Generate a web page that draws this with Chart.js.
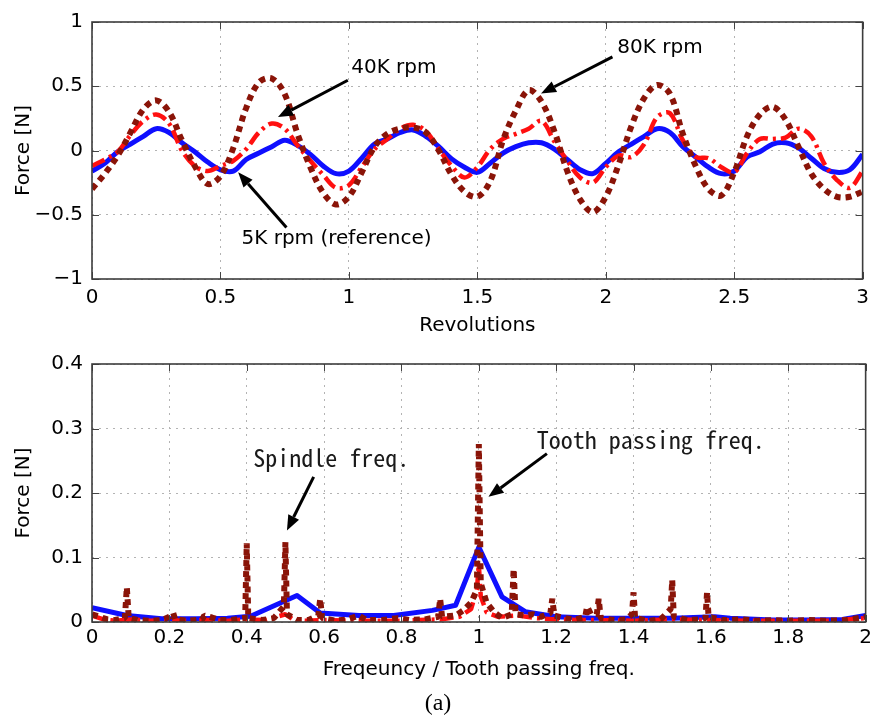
<!DOCTYPE html>
<html>
<head>
<meta charset="utf-8">
<script src="https://cdn.jsdelivr.net/npm/chart.js@4/dist/chart.umd.min.js"></script>
<style>
  html, body { margin: 0; padding: 0; background: #fff; }
  #wrap { position: relative; width: 876px; height: 721px; overflow: hidden; background: #fff; }
  #cTime { position: absolute; left: 0; top: 0; }
  #cFreq { position: absolute; left: 0; top: 340px; }
  #caption { position: absolute; left: 0; width: 876px; top: 690px; text-align: center;
             font: 24px "Liberation Serif", serif; line-height: 24px; color: #000; }
</style>
</head>
<body>
<div id="wrap">
  <canvas id="cTime" width="876" height="345"></canvas>
  <canvas id="cFreq" width="876" height="381"></canvas>
  <div id="caption">(a)</div>
</div>
<script>
// ---- time-domain force over three revolutions ----
const revolutions = [0, 0.05, 0.1, 0.15, 0.2, 0.25, 0.3, 0.35, 0.4, 0.45, 0.5, 0.55, 0.6, 0.65, 0.7, 0.75, 0.8, 0.85, 0.9, 0.95,
  1, 1.05, 1.1, 1.15, 1.2, 1.25, 1.3, 1.35, 1.4, 1.45, 1.5, 1.55, 1.6, 1.65, 1.7, 1.75, 1.8, 1.85, 1.9, 1.95,
  2, 2.05, 2.1, 2.15, 2.2, 2.25, 2.3, 2.35, 2.4, 2.45, 2.5, 2.55, 2.6, 2.65, 2.7, 2.75, 2.8, 2.85, 2.9, 2.95, 3];

const force5k = [-0.16, -0.10, -0.01, 0.05, 0.11, 0.17, 0.14, 0.06, -0.01, -0.09, -0.15, -0.16, -0.07, -0.02, 0.03, 0.08, 0.04, -0.03, -0.12, -0.18,
  -0.16, -0.06, 0.05, 0.09, 0.14, 0.16, 0.11, 0.03, -0.065, -0.13, -0.17, -0.10, -0.02, 0.03, 0.06, 0.06, 0.01, -0.07, -0.15, -0.18,
  -0.10, -0.01, 0.05, 0.11, 0.17, 0.14, 0.03, -0.05, -0.13, -0.18, -0.16, -0.05, -0.01, 0.05, 0.06, 0.02, -0.06, -0.14, -0.17, -0.15, -0.03];

const force40k = [-0.12, -0.07, -0.01, 0.12, 0.23, 0.28, 0.21, 0.00, -0.12, -0.16, -0.12, -0.08, 0.01, 0.14, 0.21, 0.17, 0.04, -0.08, -0.19, -0.29,
  -0.27, -0.13, 0.01, 0.09, 0.17, 0.20, 0.15, 0.01, -0.12, -0.21, -0.13, 0.01, 0.09, 0.13, 0.17, 0.23, 0.07, -0.08, -0.21, -0.25,
  -0.13, -0.04, -0.05, 0.05, 0.26, 0.29, 0.08, -0.05, -0.06, -0.13, -0.17, -0.02, 0.09, 0.09, 0.10, 0.17, 0.11, -0.10, -0.23, -0.29, -0.16];

const force80k = [-0.30, -0.18, -0.04, 0.14, 0.32, 0.39, 0.30, 0.08, -0.12, -0.26, -0.20, 0.02, 0.33, 0.53, 0.56, 0.44, 0.13, -0.13, -0.33, -0.42,
  -0.36, -0.17, 0.03, 0.13, 0.17, 0.18, 0.14, 0.00, -0.19, -0.32, -0.36, -0.24, 0.08, 0.31, 0.47, 0.38, 0.15, -0.16, -0.38, -0.48,
  -0.36, -0.11, 0.19, 0.41, 0.51, 0.44, 0.13, -0.12, -0.30, -0.35, -0.17, 0.11, 0.28, 0.34, 0.24, 0.03, -0.18, -0.30, -0.36, -0.36, -0.32];

// ---- spectra, frequency normalised by tooth passing frequency ----
const freq5k = [0, 0.09, 0.18, 0.27, 0.35, 0.41, 0.53, 0.59, 0.69, 0.78, 0.88, 0.94, 1.0, 1.06, 1.12, 1.2, 1.3, 1.42, 1.5, 1.61, 1.65, 1.76, 1.85, 1.94, 2.0];
const amp5k = [0.022, 0.010, 0.005, 0.005, 0.006, 0.009, 0.041, 0.014, 0.010, 0.010, 0.018, 0.026, 0.116, 0.039, 0.016, 0.008, 0.006, 0.006, 0.006, 0.008, 0.006, 0.003, 0.003, 0.004, 0.010];

const freq40k = [0, 0.03, 0.06, 0.1, 0.15, 0.2, 0.25, 0.3, 0.35, 0.4, 0.45, 0.5, 0.52, 0.55, 0.6, 0.7, 0.8, 0.9, 0.95, 0.98, 0.995, 1.0, 1.005, 1.02, 1.05,
  1.1, 1.15, 1.2, 1.3, 1.4, 1.5, 1.6, 1.7, 1.8, 1.9, 2.0];
const amp40k = [0.010, 0.004, 0.002, 0.004, 0.002, 0.003, 0.002, 0.003, 0.002, 0.004, 0.003, 0.012, 0.004, 0.002, 0.003, 0.002, 0.002, 0.004, 0.008, 0.020, 0.050, 0.090, 0.040, 0.015, 0.008,
  0.010, 0.006, 0.004, 0.003, 0.002, 0.004, 0.003, 0.002, 0.002, 0.002, 0.006];

const freq80k = [0, 0.02, 0.04, 0.06, 0.085, 0.09, 0.095, 0.12, 0.15, 0.18, 0.2, 0.21, 0.215, 0.25, 0.285, 0.29, 0.31, 0.33, 0.36,
  0.396, 0.4, 0.404, 0.44, 0.47, 0.49, 0.496, 0.5, 0.504, 0.53, 0.56, 0.585, 0.59, 0.595, 0.63, 0.66, 0.69, 0.71, 0.75, 0.79, 0.82, 0.86,
  0.895, 0.9, 0.905, 0.94, 0.96, 0.98, 0.995, 1.0, 1.005, 1.02, 1.04, 1.06, 1.085, 1.09, 1.095, 1.12, 1.14, 1.16, 1.185, 1.19, 1.195,
  1.22, 1.25, 1.275, 1.28, 1.29, 1.305, 1.31, 1.315, 1.35, 1.38, 1.396, 1.4, 1.404, 1.44, 1.47, 1.496, 1.5, 1.504, 1.54, 1.57,
  1.586, 1.59, 1.594, 1.63, 1.68, 1.72, 1.76, 1.8, 1.85, 1.9, 1.95, 2.0];
const amp80k = [0.012, 0.008, 0.004, 0.003, 0.006, 0.054, 0.006, 0.003, 0.002, 0.003, 0.008, 0.014, 0.004, 0.002, 0.004, 0.010, 0.007, 0.003, 0.003,
  0.006, 0.122, 0.006, 0.003, 0.006, 0.020, 0.024, 0.124, 0.012, 0.003, 0.003, 0.010, 0.036, 0.006, 0.002, 0.004, 0.010, 0.003, 0.003, 0.006, 0.003, 0.004,
  0.008, 0.036, 0.008, 0.010, 0.018, 0.030, 0.050, 0.276, 0.060, 0.030, 0.015, 0.006, 0.012, 0.082, 0.012, 0.010, 0.012, 0.008, 0.014, 0.036, 0.010,
  0.006, 0.004, 0.008, 0.024, 0.012, 0.012, 0.036, 0.006, 0.003, 0.004, 0.012, 0.046, 0.006, 0.002, 0.004, 0.020, 0.065, 0.008, 0.003, 0.004,
  0.006, 0.046, 0.008, 0.003, 0.004, 0.002, 0.003, 0.002, 0.003, 0.002, 0.003, 0.008];

// Callouts, placed in axis units
const timeNotes = [
  { text: '40K rpm', at: [1.009, 0.64], tail: [0.996, 0.547], head: [0.724, 0.26] },
  { text: '80K rpm', at: [2.045, 0.80], tail: [2.026, 0.729], head: [1.748, 0.443] },
  { text: '5K rpm (reference)', at: [0.582, -0.69], tail: [0.757, -0.60], head: [0.569, -0.17] }
];
const freqNotes = [
  { text: 'Spindle freq.', at: [0.417, 0.255], tail: [0.573, 0.225], head: [0.504, 0.142] },
  { text: 'Tooth passing freq.', at: [1.15, 0.283], tail: [1.176, 0.261], head: [1.025, 0.194] }
];

Chart.defaults.font.family = '"DejaVu Sans", sans-serif';
Chart.defaults.font.size = 20;
Chart.defaults.color = '#000';

// pick a narrow monospace face for the spectrum callouts
function monoFont() {
  const c = document.createElement('canvas').getContext('2d');
  c.font = '24px "Noto Sans Mono CJK KR", "Liberation Mono"';
  const w = c.measureText('Spindle freq.').width;
  if (Math.abs(w - 156) < 5) return '24px "Noto Sans Mono CJK KR"';
  return '20px "DejaVu Sans Mono", monospace';
}
const MONO = monoFont();

function pts(xs, ys) { return xs.map((x, i) => ({ x: x, y: ys[i] })); }

function arrow(ctx, x0, y0, x1, y1) {
  const ang = Math.atan2(y1 - y0, x1 - x0);
  const hl = 15, hw = 6;
  const bx = x1 - hl * Math.cos(ang), by = y1 - hl * Math.sin(ang);
  ctx.beginPath();
  ctx.moveTo(x0, y0);
  ctx.lineTo(bx, by);
  ctx.stroke();
  ctx.beginPath();
  ctx.moveTo(x1, y1);
  ctx.lineTo(bx + hw * Math.sin(ang), by - hw * Math.cos(ang));
  ctx.lineTo(bx - hw * Math.sin(ang), by + hw * Math.cos(ang));
  ctx.closePath();
  ctx.fill();
}

// box frame, inward tick marks and arrow callouts
const framePlugin = {
  id: 'frame',
  afterDatasetsDraw(chart, args, opts) {
    const { ctx, chartArea: a, scales } = chart;
    const sx = scales.x, sy = scales.y;
    ctx.save();
    ctx.strokeStyle = '#444';
    ctx.lineWidth = 1;
    const L = 7;
    ctx.beginPath();
    sx.ticks.forEach(t => {
      const p = Math.round(sx.getPixelForValue(t.value)) + 0.5;
      ctx.moveTo(p, a.bottom); ctx.lineTo(p, a.bottom - L);
      ctx.moveTo(p, a.top); ctx.lineTo(p, a.top + L);
    });
    sy.ticks.forEach(t => {
      const p = Math.round(sy.getPixelForValue(t.value)) + 0.5;
      ctx.moveTo(a.left, p); ctx.lineTo(a.left + L, p);
      ctx.moveTo(a.right, p); ctx.lineTo(a.right - L, p);
    });
    ctx.stroke();
    ctx.lineWidth = 1.6;
    ctx.strokeStyle = '#3c3c3c';
    ctx.strokeRect(a.left, a.top, a.right - a.left, a.bottom - a.top);

    ctx.fillStyle = '#000';
    ctx.strokeStyle = '#000';
    ctx.lineWidth = 3;
    (opts.notes || []).forEach(n => {
      arrow(ctx, sx.getPixelForValue(n.tail[0]), sy.getPixelForValue(n.tail[1]),
                 sx.getPixelForValue(n.head[0]), sy.getPixelForValue(n.head[1]));
      ctx.font = opts.font;
      ctx.fillStyle = opts.textColor || '#000';
      ctx.textAlign = 'left';
      ctx.textBaseline = 'middle';
      ctx.fillText(n.text, sx.getPixelForValue(n.at[0]), sy.getPixelForValue(n.at[1]));
      ctx.fillStyle = '#000';
    });
    ctx.restore();
  }
};

function fmt(v) {
  const r = +v.toFixed(2);
  return r < 0 ? '\u2212' + Math.abs(r) : String(r);
}

function makeScales(o) {
  const grid = { color: '#b3b3b3', lineWidth: 1, drawTicks: false };
  return {
    x: {
      type: 'linear', min: o.xMin, max: o.xMax,
      afterFit: s => { s.height = o.xHeight; },
      grid: grid,
      border: { display: false, dash: [2, 5] },
      ticks: { stepSize: o.xStep, autoSkip: false, maxRotation: 0, padding: o.xTickPad, callback: fmt },
      title: { display: true, text: o.xTitle, padding: { top: 0, bottom: o.xTitlePad } }
    },
    y: {
      type: 'linear', min: o.yMin, max: o.yMax,
      afterFit: s => { s.width = 92; },
      grid: grid,
      border: { display: false, dash: [2, 5] },
      ticks: { stepSize: o.yStep, padding: 9, callback: fmt },
      title: { display: true, text: 'Force [N]', padding: { top: 12, bottom: 0 } }
    }
  };
}

const lineStyles = {
  s5k: { borderColor: '#0f0fff', borderWidth: 5, pointRadius: 0, tension: 0.35, borderJoinStyle: 'round', order: 2 },
  s40k: { borderColor: '#ff1010', borderWidth: 4.5, borderDash: [14, 5, 3, 5], pointRadius: 0, tension: 0.35, borderJoinStyle: 'bevel', order: 1 },
  s80k: { borderColor: '#8a1408', borderWidth: 6, borderDash: [6, 5], pointRadius: 0, tension: 0.35, borderJoinStyle: 'bevel', order: 0 }
};

new Chart(document.getElementById('cTime'), {
  type: 'line',
  data: {
    datasets: [
      Object.assign({ label: '5K rpm', data: pts(revolutions, force5k) }, lineStyles.s5k),
      Object.assign({ label: '40K rpm', data: pts(revolutions, force40k) }, lineStyles.s40k),
      Object.assign({ label: '80K rpm', data: pts(revolutions, force80k) }, lineStyles.s80k)
    ]
  },
  options: {
    responsive: false, animation: false, devicePixelRatio: 1,
    layout: { padding: { top: 22, right: 10, left: 0, bottom: 0 } },
    scales: makeScales({ xMin: 0, xMax: 3, xStep: 0.5, yMin: -1, yMax: 1, yStep: 0.5,
      xHeight: 66, xTickPad: 7, xTitle: 'Revolutions', xTitlePad: 7 }),
    plugins: {
      legend: { display: false }, tooltip: { enabled: false },
      frame: { notes: timeNotes, font: '20px "DejaVu Sans", sans-serif' }
    }
  },
  plugins: [framePlugin]
});

new Chart(document.getElementById('cFreq'), {
  type: 'line',
  data: {
    datasets: [
      Object.assign({ label: '5K rpm', data: pts(freq5k, amp5k) }, lineStyles.s5k, { tension: 0 }),
      Object.assign({ label: '40K rpm', data: pts(freq40k, amp40k) }, lineStyles.s40k, { tension: 0 }),
      Object.assign({ label: '80K rpm', data: pts(freq80k, amp80k) }, lineStyles.s80k, { tension: 0 })
    ]
  },
  options: {
    responsive: false, animation: false, devicePixelRatio: 1,
    layout: { padding: { top: 24, right: 10, left: 0, bottom: 0 } },
    scales: makeScales({ xMin: 0, xMax: 2, xStep: 0.2, yMin: 0, yMax: 0.4, yStep: 0.1,
      xHeight: 99, xTickPad: 4, xTitle: 'Freqeuncy / Tooth passing freq.', xTitlePad: 39 }),
    plugins: {
      legend: { display: false }, tooltip: { enabled: false },
      frame: { notes: freqNotes, font: MONO, textColor: '#1a1a1a' }
    }
  },
  plugins: [framePlugin]
});
</script>
</body>
</html>
